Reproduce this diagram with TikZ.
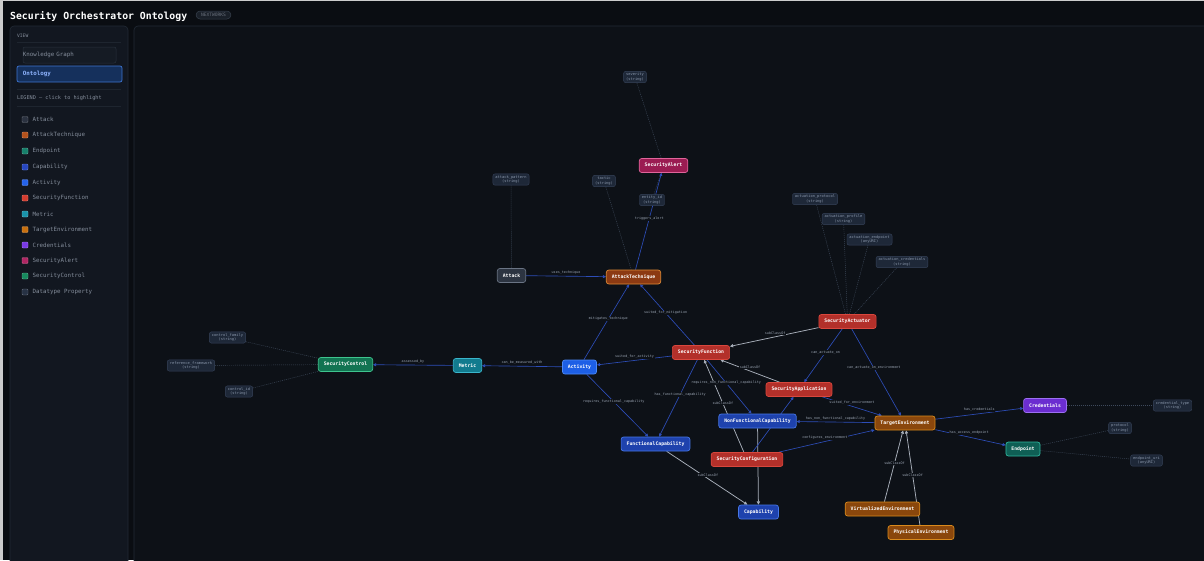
\documentclass[tikz,border=0pt]{standalone}
\usepackage{fontspec}
\newfontfamily\mono{DejaVu Sans Mono}
\usetikzlibrary{arrows.meta}
\definecolor{pagebg}{HTML}{0A0D12}
\definecolor{canvasbg}{HTML}{0D1117}
\definecolor{panelbg}{HTML}{121720}
\definecolor{panelborder}{HTML}{222A35}
\definecolor{septext}{HTML}{1E252F}
\definecolor{sidetext}{HTML}{858E9C}
\definecolor{btnfill}{HTML}{151B24}
\definecolor{btnborder}{HTML}{29313D}
\definecolor{onfill}{HTML}{15305C}
\definecolor{onborder}{HTML}{3D74D0}
\definecolor{ontext}{HTML}{8FB4FF}
\definecolor{badgefill}{HTML}{1A2029}
\definecolor{badgeborder}{HTML}{38414E}
\definecolor{relcol}{HTML}{2D4DB8}
\definecolor{subcol}{HTML}{A9B0BB}
\definecolor{propcol}{HTML}{3E4A5C}
\definecolor{lblcol}{HTML}{9AA4B2}
\definecolor{dtfill}{HTML}{1E2838}
\definecolor{dtborder}{HTML}{36435A}
\definecolor{dttext}{HTML}{8A97AB}
% class colours
\definecolor{grayF}{HTML}{2C3441}\definecolor{grayD}{HTML}{6A7484}
\definecolor{atF}{HTML}{8C3A12}\definecolor{atD}{HTML}{E08A36}
\definecolor{envF}{HTML}{8A470C}\definecolor{envD}{HTML}{D98A1C}
\definecolor{redF}{HTML}{B3302A}\definecolor{redD}{HTML}{D9473D}
\definecolor{pinkF}{HTML}{9B1C52}\definecolor{pinkD}{HTML}{E0649B}
\definecolor{actF}{HTML}{1D5FE6}\definecolor{actD}{HTML}{4D8AF7}
\definecolor{capF}{HTML}{1E42AD}\definecolor{capD}{HTML}{4677E6}
\definecolor{metF}{HTML}{127B8E}\definecolor{metD}{HTML}{3AB6CC}
\definecolor{ctlF}{HTML}{127452}\definecolor{ctlD}{HTML}{3EC48E}
\definecolor{purF}{HTML}{6B2DD0}\definecolor{purD}{HTML}{9C6FF2}
\definecolor{endF}{HTML}{0F5F55}\definecolor{endD}{HTML}{2DB59C}
% legend swatches
\definecolor{lgAttack}{HTML}{2B3240}
\definecolor{lgAT}{HTML}{B4521C}
\definecolor{lgEnd}{HTML}{17806B}
\definecolor{lgCap}{HTML}{2747C0}
\definecolor{lgAct}{HTML}{2563EB}
\definecolor{lgSF}{HTML}{D43D30}
\definecolor{lgMet}{HTML}{1A93AA}
\definecolor{lgTE}{HTML}{C8700F}
\definecolor{lgCred}{HTML}{7A3AE6}
\definecolor{lgSA}{HTML}{B02663}
\definecolor{lgSC}{HTML}{178A5E}
\definecolor{lgDT}{HTML}{273244}
\pgfdeclarelayer{back}\pgfdeclarelayer{edges}
\pgfsetlayers{back,edges,main}
\tikzset{
  cls/.style={draw, rounded corners=2.5pt, line width=0.7pt, minimum height=14pt,
    inner xsep=5.5pt, inner ysep=0pt, text=white,
    font=\mono\bfseries\fontsize{4.8}{5.5}\selectfont},
  dt/.style={draw=dtborder, fill=dtfill, rounded corners=2pt, line width=0.4pt,
    inner xsep=2.5pt, inner ysep=1.6pt, align=center, text=dttext,
    font=\mono\fontsize{3.7}{4.4}\selectfont},
  rel/.style={draw=relcol, line width=0.65pt, -{Triangle[length=3pt,width=3pt]}},
  sub/.style={draw=subcol, line width=0.75pt, -{Triangle[length=3.2pt,width=3.2pt]}},
  prop/.style={draw=propcol, line width=0.45pt, dash pattern=on 1pt off 1pt},
  lbl/.style={font=\mono\fontsize{3.4}{4}\selectfont, text=lblcol, inner sep=0.6pt, fill=canvasbg},
  side/.style={font=\mono\fontsize{5.8}{7}\selectfont, text=sidetext, inner sep=0pt},
  sepline/.style={draw=septext, line width=0.6pt},
  swatch/.style={rounded corners=1pt, minimum size=6pt, inner sep=0pt, line width=0.4pt},
}
\begin{document}
\begin{tikzpicture}[x=1pt,y=-1pt]
\clip (0,0) rectangle (1204,560);
\useasboundingbox (0,0) rectangle (1204,560);
\begin{pgfonlayer}{back}
\fill[pagebg] (0,0) rectangle (1204,560);
\fill[white!80!black] (0,0) rectangle (2.5,560);
\fill[white!80!black] (0,0) rectangle (1204,0.8);
% canvas panel
\draw[draw=panelborder, fill=canvasbg, rounded corners=4pt, line width=0.6pt] (134,26) rectangle (1214,572);
% sidebar panel
\draw[draw=panelborder, fill=panelbg, rounded corners=4pt, line width=0.6pt] (10,26) rectangle (128,572);
\end{pgfonlayer}

% header
\node[anchor=base west, inner sep=0pt, text=white, font=\mono\bfseries\fontsize{9.8}{11}\selectfont] (title) at (10,19) {Security Orchestrator Ontology};
\node[draw=badgeborder, fill=badgefill, rounded corners=4pt, line width=0.5pt, inner xsep=5pt, inner ysep=0pt, minimum height=8pt, text=sidetext!80!black, font=\mono\fontsize{4.6}{5}\selectfont] (badge) at (213.5,15) {NEXTWORKS};

% sidebar
\node[side, anchor=west, font=\mono\fontsize{4.6}{5}\selectfont] (view) at (17,35.5) {VIEW};
\draw[sepline] (17,42) -- (121,42);
\node[draw=btnborder, fill=btnfill, rounded corners=2pt, line width=0.5pt, minimum height=16pt, text width=93pt, inner xsep=6pt, inner ysep=0pt, align=left, side] (kg) at (69.5,55) {Knowledge Graph};
\node[draw=onborder, fill=onfill, rounded corners=2pt, line width=0.7pt, minimum height=16pt, text width=93pt, inner xsep=6pt, inner ysep=0pt, align=left, text=ontext, font=\mono\bfseries\fontsize{5.8}{7}\selectfont] (onto) at (69.5,74) {Ontology};
\draw[sepline] (17,89) -- (121,89);
\node[side, anchor=west, font=\mono\fontsize{5.2}{6}\selectfont] (legend) at (17,98.5) {LEGEND — click to highlight};
\draw[sepline] (17,106) -- (121,106);
\foreach \i/\y/\c/\t in {1/119.5/lgAttack/Attack, 2/135/lgAT/AttackTechnique, 3/151/lgEnd/Endpoint, 4/167/lgCap/Capability, 5/182.5/lgAct/Activity, 6/198/lgSF/SecurityFunction, 7/214/lgMet/Metric, 8/229.5/lgTE/TargetEnvironment, 9/245/lgCred/Credentials, 10/260.5/lgSA/SecurityAlert, 11/276/lgSC/SecurityControl, 12/292/lgDT/Datatype Property}{
  \node[swatch, fill=\c, draw=\c!70!white] (sw\i) at (25,\y) {};
  \node[side, anchor=west] (lt\i) at (32.5,\y) {\t};
}

% datatype property nodes
\node[dt] (severity) at (635,77) {severity\\(string)};
\node[dt] (attackpattern) at (511,179.5) {attack\_pattern\\(string)};
\node[dt] (tactic) at (604,181) {tactic\\(string)};
\node[dt] (entityid) at (652,200) {entity\_id\\(string)};
\node[dt] (actproto) at (815,199) {actuation\_protocol\\(string)};
\node[dt] (actprof) at (843.5,219) {actuation\_profile\\(string)};
\node[dt] (actendp) at (869.5,239.5) {actuation\_endpoint\\(anyURI)};
\node[dt] (actcred) at (902,262) {actuation\_credentials\\(string)};
\node[dt] (ctrlfam) at (227.5,337.5) {control\_family\\(string)};
\node[dt] (refframe) at (191,365.5) {reference\_framework\\(string)};
\node[dt] (ctrlid) at (239,391.5) {control\_id\\(string)};
\node[dt] (credtype) at (1172.5,405.5) {credential\_type\\(string)};
\node[dt] (protocol) at (1120,428) {protocol\\(string)};
\node[dt] (enduri) at (1146.5,460.5) {endpoint\_uri\\(anyURI)};

% class nodes
\node[cls, fill=pinkF, draw=pinkD] (salert) at (663.5,165.5) {SecurityAlert};
\node[cls, fill=grayF, draw=grayD] (attack) at (511.5,275.5) {Attack};
\node[cls, fill=atF, draw=atD] (atech) at (633.5,277) {AttackTechnique};
\node[cls, fill=redF, draw=redD] (sact) at (847.5,321.5) {SecurityActuator};
\node[cls, fill=redF, draw=redD] (sfunc) at (701,352.5) {SecurityFunction};
\node[cls, fill=actF, draw=actD] (activity) at (579.5,367) {Activity};
\node[cls, fill=metF, draw=metD] (metric) at (467.5,365.5) {Metric};
\node[cls, fill=ctlF, draw=ctlD] (sctrl) at (345.5,364.5) {SecurityControl};
\node[cls, fill=redF, draw=redD] (sapp) at (799,389.5) {SecurityApplication};
\node[cls, fill=capF, draw=capD] (nfc) at (757.5,421) {NonFunctionalCapability};
\node[cls, fill=envF, draw=envD] (te) at (905,423) {TargetEnvironment};
\node[cls, fill=purF, draw=purD] (cred) at (1045,405.5) {Credentials};
\node[cls, fill=endF, draw=endD] (endpoint) at (1023,449) {Endpoint};
\node[cls, fill=capF, draw=capD] (fc) at (655.5,444) {FunctionalCapability};
\node[cls, fill=redF, draw=redD] (sconf) at (747,459.5) {SecurityConfiguration};
\node[cls, fill=capF, draw=capD] (cap) at (758.5,512) {Capability};
\node[cls, fill=envF, draw=envD] (venv) at (882.5,509) {VirtualizedEnvironment};
\node[cls, fill=envF, draw=envD] (penv) at (921,532.5) {PhysicalEnvironment};

\begin{pgfonlayer}{edges}
% datatype links
\draw[prop] (severity) -- (salert);
\draw[prop] (entityid) -- (salert);
\draw[prop] (attackpattern) -- (attack);
\draw[prop] (tactic) -- (atech);
\draw[prop] (actproto) -- (sact);
\draw[prop] (actprof) -- (sact);
\draw[prop] (actendp) -- (sact);
\draw[prop] (actcred) -- (sact);
\draw[prop] (ctrlfam) -- (sctrl);
\draw[prop] (refframe) -- (sctrl);
\draw[prop] (ctrlid) -- (sctrl);
\draw[prop] (cred) -- (credtype);
\draw[prop] (endpoint) -- (protocol);
\draw[prop] (endpoint) -- (enduri);
% subclass links
\draw[sub] (sact) -- node[lbl, pos=0.49, above=1pt] {subClassOf} (sfunc);
\draw[sub] (sapp) -- node[lbl, pos=0.5, above=1.2pt] {subClassOf} (sfunc);
\draw[sub] (sconf) -- node[lbl, pos=0.53] {subClassOf} (sfunc);
\draw[sub] (nfc) -- (cap);
\draw[sub] (fc) -- node[lbl, pos=0.51, above=1.5pt] {subClassOf} (cap);
\draw[sub] (venv) -- node[lbl, pos=0.54] {subClassOf} (te);
\draw[sub] (penv) -- node[lbl, pos=0.53] {subClassOf} (te);
% object properties
\draw[rel] (attack) -- node[lbl, pos=0.5, above=0.8pt] {uses\_technique} (atech);
\draw[rel] (atech) -- node[lbl, pos=0.53] {triggers\_alert} (salert);
\draw[rel] (activity) -- node[lbl, pos=0.54] {mitigates\_technique} (atech);
\draw[rel] (sfunc) -- node[lbl, pos=0.53] {suited\_for\_mitigation} (atech);
\draw[rel] (sfunc) -- node[lbl, pos=0.5, above=1pt] {suited\_for\_activity} (activity);
\draw[rel] (activity) -- node[lbl, pos=0.5, above=0.8pt] {can\_be\_measured\_with} (metric);
\draw[rel] (metric) -- node[lbl, pos=0.5, above=0.8pt] {assessed\_by} (sctrl);
\draw[rel] (activity) -- node[lbl, pos=0.44] {requires\_functional\_capability} (fc);
\draw[rel] (sfunc) -- node[lbl, pos=0.45] {has\_functional\_capability} (fc);
\draw[rel] (sfunc) -- node[lbl, pos=0.43] {requires\_non\_functional\_capability} (nfc);
\draw[rel] (sact) -- node[lbl, pos=0.44] {can\_actuate\_on} (sapp);
\draw[rel] (sact) -- node[lbl, pos=0.45] {can\_actuate\_on\_environment} (te);
\draw[rel] (sapp) -- node[lbl, pos=0.5, above=1.2pt] {suited\_for\_environment} (te);
\draw[rel] (te) -- node[lbl, pos=0.5, above=0.8pt] {has\_non\_functional\_capability} (nfc);
\draw[rel] (sconf) -- node[lbl, pos=0.48, above=1.5pt] {configures\_environment} (te);
\draw[rel] (sconf) -- (sapp);
\draw[rel] (te) -- node[lbl, pos=0.5, above=1pt] {has\_credentials} (cred);
\draw[rel] (te) -- node[lbl, pos=0.48, above=1.5pt] {has\_access\_endpoint} (endpoint);
\end{pgfonlayer}
\end{tikzpicture}
\end{document}
